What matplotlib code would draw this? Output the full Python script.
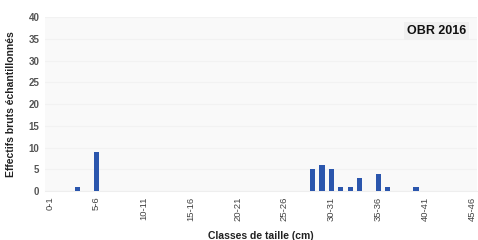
import matplotlib
matplotlib.use("Agg")

import matplotlib.pyplot as plt
import numpy as np

# size classes 0-1 ... 45-46
CLASSES = [f"{i}-{i + 1}" for i in range(46)]
COUNTS = [0] * 46
# values
OBSERVED = {3: 1, 5: 9, 28: 5, 29: 6, 30: 5, 31: 1, 32: 1, 33: 3, 35: 4, 36: 1, 39: 1}
for k, v in OBSERVED.items():
    COUNTS[k] = v

TICK_EVERY = 5
Y_TICKS = [0, 5, 10, 15, 20, 25, 30, 35, 40]

BAR_COLOR = "#2b56ad"

plt.rcParams.update({
    "font.family": "Liberation Sans",
    "font.size": 7,
})

fig = plt.figure(figsize=(4.78, 2.40), dpi=100, facecolor="white")
ax = fig.add_axes([0.094, 0.204, 0.904, 0.725])
ax.set_facecolor("#f9f9f9")

x = np.arange(len(CLASSES))
ax.bar(x, COUNTS, width=0.55, color=BAR_COLOR, zorder=3)

ax.set_xlim(-0.5, len(CLASSES) - 0.5)
ax.set_ylim(0, 40)
ax.set_yticks(Y_TICKS)
ax.set_yticklabels([str(v) for v in Y_TICKS], fontweight="bold", color="#555555", fontsize=7)

ticks = x[::TICK_EVERY]
ax.set_xticks(ticks)
ax.set_xticklabels([CLASSES[i] for i in ticks], rotation=90, fontsize=6.8, color="#444444")

ax.grid(axis="y", color="#f2f2f2", linewidth=0.8, zorder=0)
for side in ["top", "right", "left"]:
    ax.spines[side].set_visible(False)
ax.spines["bottom"].set_color("#eeeeee")
ax.tick_params(length=0, pad=4)

ax.set_ylabel("Effectifs bruts échantillonnés", fontweight="bold", fontsize=7.5,
              color="#222222", labelpad=9)
ax.set_xlabel("Classes de taille (cm)", fontweight="bold", fontsize=7.5,
              color="#222222", labelpad=7)

ax.text(0.975, 0.92, "OBR 2016", transform=ax.transAxes, ha="right", va="center",
        fontsize=9, fontweight="bold", color="#111111",
        bbox=dict(facecolor="#f0f0f0", edgecolor="none", pad=2))

fig.savefig("out.png", dpi=100, facecolor=fig.get_facecolor())
